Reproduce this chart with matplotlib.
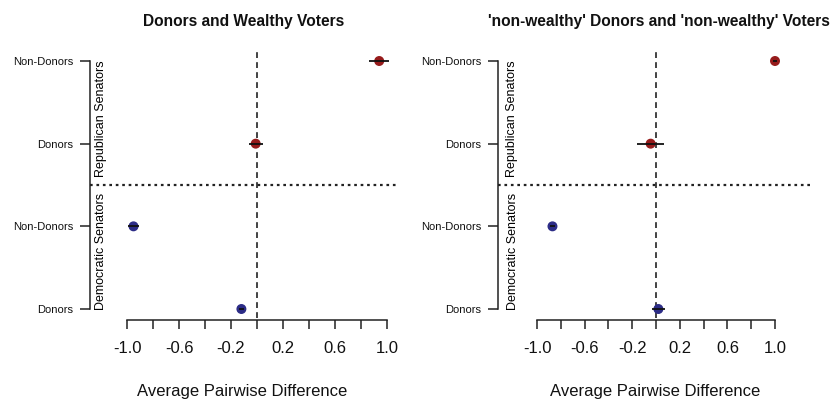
import numpy as np
import matplotlib.pyplot as plt

plt.rcParams['font.family'] = ['Liberation Sans', 'DejaVu Sans']
plt.rcParams['axes.unicode_minus'] = False

# rows from bottom to top
rows = ['Donors', 'Non-Donors', 'Donors', 'Non-Donors']
row_party = ['D', 'D', 'R', 'R']
titles = ['Donors and Wealthy Voters',
          "'non-wealthy' Donors and 'non-wealthy' Voters"]
est_left = [-0.12, -0.95, -0.01, 0.94]
err_left = [0.02, 0.045, 0.055, 0.077]
est_right = [0.02, -0.87, -0.045, 1.0]
err_right = [0.055, 0.02, 0.115, 0.02]
xtick_vals = [-1.0, -0.8, -0.6, -0.4, -0.2, 0.0, 0.2, 0.4, 0.6, 0.8, 1.0]
xtick_labs = ['-1.0', '', '-0.6', '', '-0.2', '', '0.2', '', '0.6', '', '1.0']
xlab = 'Average Pairwise Difference'
party_col = {'R': '#961b1b', 'D': '#2c2c86'}

W, H = 831, 400
fig = plt.figure(figsize=(W / 100, H / 100), dpi=100)

# pixel layout of the reference (R base graphics look)
row_px = (309 - 61) / 3.0
def ydat(py):
  return 1 + (309 - py) / row_px

def panel(est, err, title, x0, x1, zero, unit, dot_end, sen_x, title_x, title_ha, lab_x):
  ax = fig.add_axes([x0 / W, 1 - 325 / H, (x1 - x0) / W, (325 - 45) / H])
  xd = lambda px: (px - zero) / unit
  ax.set_xlim(xd(x0), xd(x1))
  ax.set_ylim(ydat(325), ydat(45))
  ypos = np.arange(1, len(rows) + 1)
  cols = [party_col[p] for p in row_party]

  ax.plot([0, 0], [ydat(318), ydat(50)], color='#222222', lw=1.2, ls=(0, (3.5, 2.5)), zorder=1)
  ax.plot([xd(x0), xd(dot_end)], [2.5, 2.5], color='#222222', lw=1.6, ls=(0, (1.2, 1.7)),
          clip_on=False, zorder=1)
  ax.scatter(est, ypos, s=38, c=cols, edgecolors=cols, zorder=3)
  ax.errorbar(est, ypos, xerr=err, fmt='none', ecolor='#111111', elinewidth=1.3, capsize=0, zorder=4)

  for s in ['top', 'right']:
    ax.spines[s].set_visible(False)
  ax.spines['bottom'].set_position(('data', ydat(320)))
  ax.spines['bottom'].set_bounds(-1, 1)
  ax.spines['left'].set_bounds(1, 4)
  for s in ['bottom', 'left']:
    ax.spines[s].set_linewidth(1.1)
    ax.spines[s].set_color('#222222')

  ax.set_xticks(xtick_vals)
  ax.set_xticklabels(xtick_labs)
  ax.set_yticks(ypos)
  ax.set_yticklabels(rows)
  ax.tick_params(axis='x', direction='out', length=6.5, width=1.1, color='#222222',
                 labelsize=12, pad=8.5, labelcolor='#111111')
  ax.tick_params(axis='y', direction='out', length=7, width=1.1, color='#222222',
                 labelsize=8, pad=5, labelcolor='#111111')

  ax.text(xd(sen_x), 3.3, 'Republican Senators', rotation=90, ha='center', va='center', fontsize=9)
  ax.text(xd(sen_x), 1.7, 'Democratic Senators', rotation=90, ha='center', va='center', fontsize=9)

  ax.set_xlabel(xlab, fontsize=12, color='#111111')
  ax.xaxis.label.set_va('baseline')
  ax.xaxis.set_label_coords((lab_x - x0) / (x1 - x0), (325 - 396) / (325 - 45))

  fig.text(title_x / W, 1 - 26 / H, title, ha=title_ha, va='baseline',
           fontsize=11.2, fontweight='bold', color='#111111')
  return ax

panel(est_left, err_left, titles[0], 90, 410, 257, 130, 399, 101, 244, 'center', 242.5)
panel(est_right, err_right, titles[1], 498, 820, 656, 119, 810, 512.5, 488, 'left', 655)

fig.savefig('out.png', dpi=100)
